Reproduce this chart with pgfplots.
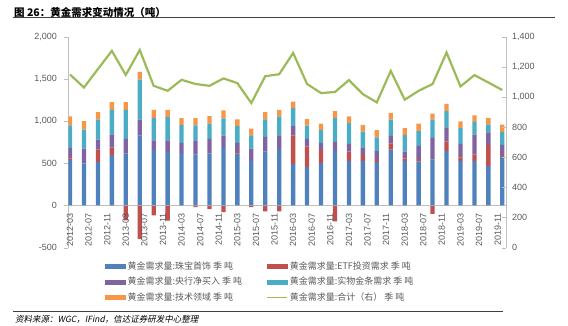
\documentclass[border=0pt]{standalone}
\usepackage{pgfplots}
\pgfplotsset{compat=1.18}
\usepackage{pgfplotstable}
\usepackage{fontspec}
\setmainfont{Liberation Sans}
\newfontfamily\cjk{Noto Sans CJK SC}
\newfontfamily\cjkit[FakeSlant=0.2]{Noto Sans CJK SC}
\definecolor{cBlue}{HTML}{4F81BD}
\definecolor{cRed}{HTML}{C0504D}
\definecolor{cPurple}{HTML}{8064A2}
\definecolor{cTeal}{HTML}{4BACC6}
\definecolor{cOrange}{HTML}{F79646}
\definecolor{cGreen}{HTML}{9BBB59}
\definecolor{tickgray}{HTML}{595959}
\definecolor{axgray}{HTML}{BFBFBF}
\definecolor{rulegray}{HTML}{404040}

\pgfplotstableread{
x  blue redp purple teal orange redn total
0  537  20   125    267  106    0    1149
3  498  0    177    223  102    0    1063
6  518  145  117    236  90     0    1185
9  596  90   157    290  91     0    1306
12 616  0    172    345  91     -176 1146
15 831  0    185    474  94     -396 1312
18 655  0    118    266  94     -118 1074
21 631  0    142    274  86     -180 1041
24 624  0    117    212  82     0    1114
27 604  0    169    176  86     -20  1086
30 616  0    172    181  90     -43  1074
33 694  0    134    203  95     -78  1123
36 616  19   106    200  79     0    1092
39 529  0    146    156  79     -20  960
42 639  0    173    208  86     -71  1138
45 667  0    164    224  78     -71  1151
48 490  341  110    212  78     0    1292
51 459  243  86     157  79     0    1086
54 506  149  86     153  75     0    1026
57 647  0    106    282  83     -188 1033
60 529  110  90     248  78     0    1112
63 529  67   94     185  78     0    1019
66 518  31   94     165  86     0    964
69 663  70   91     192  82     0    1173
72 526  31   82     196  83     0    982
75 522  27   157    176  87     0    1041
78 545  0    255    216  74     -98  1086
81 643  118  165    192  86     0    1295
84 526  43   160    189  78     0    1070
87 526  78   235    153  75     0    1145
90 467  251  149    94   78     0    1096
93 584  28   106    153  86     0    1046
}\gold

\pgfplotsset{
  base/.style={
    scale only axis, width=437.4bp, height=211bp,
    at={(68.3bp,78.3bp)}, anchor=south west,
    xmin=-0.37, xmax=93.73,
    /pgf/number format/assume math mode=true,
    tick label style={font=\fontsize{9bp}{10bp}\selectfont, text=tickgray},
  },
}

\begin{document}
\begin{tikzpicture}
\path (0,0) rectangle (568bp,326bp);

% negative ETF bars (stacked separately below zero)
\begin{axis}[base, ymin=-500, ymax=2000, hide axis, ybar, bar width=4.3bp]
\addplot[fill=cRed, draw=none, bar shift=0pt] table[x=x,y=redn]{\gold};
\end{axis}

% left axis: stacked bars
\begin{axis}[base, ymin=-500, ymax=2000, ytick={-500,0,...,2000},
  axis x line=middle, axis y line=left,
  axis line style={-, draw=axgray},
  hide obscured x ticks=false, hide obscured y ticks=false,
  ybar stacked, bar width=4.3bp,
  xtick={0,4,...,92},
  xticklabels={2012-03,2012-07,2012-11,2013-03,2013-07,2013-11,2014-03,2014-07,2014-11,2015-03,2015-07,2015-11,2016-03,2016-07,2016-11,2017-03,2017-07,2017-11,2018-03,2018-07,2018-11,2019-03,2019-07,2019-11},
  xticklabel style={rotate=90, anchor=east},
  x tick style={draw=none},
  y tick style={draw=axgray},
  tick align=outside, major tick length=4bp,
  yticklabel style={/pgf/number format/1000 sep={,}, xshift=-4bp},
  ]
\addplot[fill=cBlue, draw=none] table[x=x,y=blue]{\gold};
\addplot[fill=cRed, draw=none] table[x=x,y=redp]{\gold};
\addplot[fill=cPurple, draw=none] table[x=x,y=purple]{\gold};
\addplot[fill=cTeal, draw=none] table[x=x,y=teal]{\gold};
\addplot[fill=cOrange, draw=none] table[x=x,y=orange]{\gold};
\end{axis}

% right axis: total line
\begin{axis}[base, ymin=0, ymax=1400, ytick={0,200,...,1400},
  axis y line*=right, axis x line=none,
  axis line style={-, draw=axgray},
  y tick style={draw=axgray},
  tick align=inside, major tick length=4bp,
  yticklabel style={/pgf/number format/1000 sep={,}, xshift=3bp},
  legend columns=2, legend cell align=left,
  legend style={at={(axis description cs:0.084,-0.055)}, anchor=north west,
    draw=none, fill=none, inner sep=0pt, row sep=2.5bp,
    font=\cjk\fontsize{9bp}{10bp}\selectfont, text=tickgray,
    nodes={inner sep=2bp},
    /tikz/every even column/.append style={column sep=22bp}},
  ]
\addlegendimage{legend image code/.code={\fill[cBlue] (0bp,-2bp) rectangle (20bp,2bp);}}
\addlegendentry{黄金需求量:珠宝首饰 季 吨}
\addlegendimage{legend image code/.code={\fill[cRed] (0bp,-2bp) rectangle (20bp,2bp);}}
\addlegendentry{黄金需求量:ETF投资需求 季 吨}
\addlegendimage{legend image code/.code={\fill[cPurple] (0bp,-2bp) rectangle (20bp,2bp);}}
\addlegendentry{黄金需求量:央行净买入 季 吨}
\addlegendimage{legend image code/.code={\fill[cTeal] (0bp,-2bp) rectangle (20bp,2bp);}}
\addlegendentry{黄金需求量:实物金条需求 季 吨}
\addlegendimage{legend image code/.code={\fill[cOrange] (0bp,-2bp) rectangle (20bp,2bp);}}
\addlegendentry{黄金需求量:技术领域 季 吨}
\addplot[cGreen, line width=2.2bp, mark=none,
  legend image code/.code={\draw[cGreen, line width=1.6bp] (0bp,0bp) -- (20bp,0bp);}]
  table[x=x,y=total]{\gold};
\addlegendentry{黄金需求量:合计（右） 季 吨}
\end{axis}

% title and source
\node[anchor=west, inner sep=0pt] at (14bp,313.5bp) {\cjk\bfseries\fontsize{10.5bp}{12bp}\selectfont 图 26：黄金需求变动情况（吨）};
\draw[rulegray, line width=1.8bp] (13bp,308.5bp) -- (555bp,308.5bp);
\draw[rulegray, line width=1.2bp] (13bp,14.5bp) -- (503bp,14.5bp);
\node[anchor=west, inner sep=0pt] at (15bp,6.5bp) {\cjkit\fontsize{8.5bp}{10bp}\selectfont 资料来源：WGC，IFind，信达证券研发中心整理};
\end{tikzpicture}
\end{document}
